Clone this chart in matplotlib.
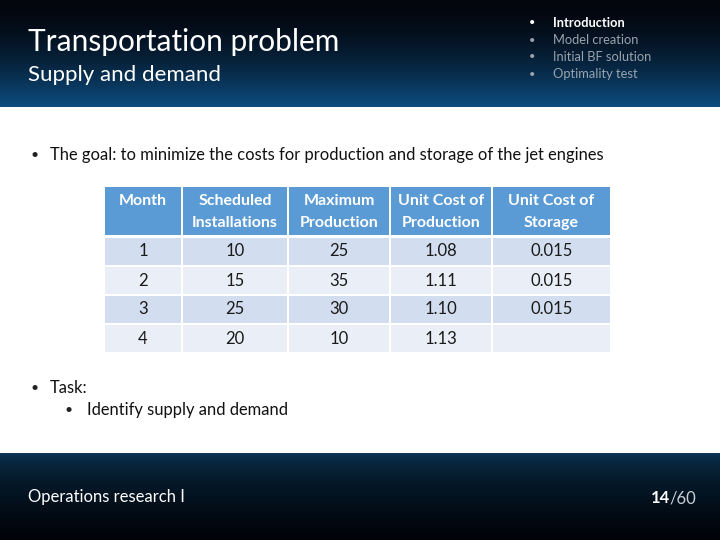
import numpy as np
import matplotlib.pyplot as plt
from matplotlib.patches import Rectangle

# *
# Slide content
# *
title      = "Transportation problem"
subtitle   = "Supply and demand"
nav_items  = ["Introduction", "Model creation", "Initial BF solution", "Optimality test"]
goal_text  = "The goal: to minimize the costs for production and storage of the jet engines"
task_text  = "Task:"
sub_task   = "Identify supply and demand"
footer     = "Operations research I"
page_num   = "14"
page_total = "/60"

# *
# Table data
# *
headers      = [["Month", ""], ["Scheduled", "Installations"], ["Maximum", "Production"],
                ["Unit Cost of", "Production"], ["Unit Cost of", "Storage"]]
months       = ["1", "2", "3", "4"]
scheduled    = ["10", "15", "25", "20"]
max_prod     = ["25", "35", "30", "10"]
cost_prod    = ["1.08", "1.11", "1.10", "1.13"]
cost_storage = ["0.015", "0.015", "0.015", ""]

rows = list(zip(months, scheduled, max_prod, cost_prod, cost_storage))

# *
# Figure: one axes in pixel units
# *
fig = plt.figure(figsize=(7.2, 5.4), dpi=100)
ax = fig.add_axes([0, 0, 1, 1])
ax.set_xlim(0, 720)
ax.set_ylim(540, 0)
ax.axis("off")
plt.rcParams['font.family'] = ['Lato', 'DejaVu Sans']

# header band: black at top to blue at bottom
grad = np.linspace(0, 1, 100)[:, None]
top = np.array([0.01, 0.02, 0.05])
bot = np.array([0.05, 0.30, 0.50])
head_img = top + (bot - top) * grad[..., None] ** 1.6
head_img = np.repeat(head_img, 2, axis=1)
ax.imshow(head_img, extent=(0, 720, 107, 0), aspect="auto", zorder=0)

# footer band: dark navy with a little blue at top
grad2 = np.linspace(0, 1, 100)[:, None]
ftop = np.array([0.05, 0.22, 0.35])
fbot = np.array([0.0, 0.01, 0.03])
foot_img = ftop + (fbot - ftop) * grad2[..., None] ** 0.5
foot_img = np.repeat(foot_img, 2, axis=1)
ax.imshow(foot_img, extent=(0, 720, 540, 453), aspect="auto", zorder=0)

# titles
ax.text(28, 42, title, color="white", fontsize=21.5, va="center", ha="left")
ax.text(28, 75, subtitle, color="white", fontsize=16, va="center", ha="left")

# navigation list
for i, item in enumerate(nav_items):
    y = 23 + i * 17
    col = "white" if i == 0 else "#9aa3ad"
    ax.text(532, y, "•", color=col, fontsize=8, va="center", ha="center")
    ax.text(553, y, item, color=col, fontsize=9.3, va="center", ha="left",
            fontweight="bold" if i == 0 else "normal")

# bullets
ax.text(30, 155, "•", color="#222222", fontsize=10, va="center")
ax.text(50, 155, goal_text, color="#111111", fontsize=11.9, va="center")
ax.text(30, 388, "•", color="#222222", fontsize=10, va="center")
ax.text(50, 388, task_text, color="#111111", fontsize=11.9, va="center")
ax.text(65, 410, "•", color="#222222", fontsize=10, va="center")
ax.text(87, 410, sub_task, color="#111111", fontsize=11.9, va="center")

# table
col_edges = [105, 181, 287, 389, 491, 610]
head_top, head_bot = 187, 235
row_top = 238
row_h = 29
gap = 2

for j in range(len(headers)):
    x0 = col_edges[j] + (0 if j == 0 else gap)
    w = col_edges[j + 1] - x0
    xc = (x0 + col_edges[j + 1]) / 2
    ax.add_patch(Rectangle((x0, head_top), w, head_bot - head_top, facecolor="#5b9bd5", edgecolor="none"))
    ax.text(xc, 201, headers[j][0], color="white", fontsize=11.5, ha="center", va="center", fontweight="bold")
    ax.text(xc, 223, headers[j][1], color="white", fontsize=11.5, ha="center", va="center", fontweight="bold")

for i, row in enumerate(rows):
    y0 = row_top + i * row_h
    fc = "#d2deef" if i % 2 == 0 else "#eaeff7"
    for j, val in enumerate(row):
        x0 = col_edges[j] + (0 if j == 0 else gap)
        w = col_edges[j + 1] - x0
        ax.add_patch(Rectangle((x0, y0), w, row_h - gap, facecolor=fc, edgecolor="none"))
        ax.text((x0 + col_edges[j + 1]) / 2, y0 + (row_h - gap) / 2, val, color="#1a1a1a",
                fontsize=12, ha="center", va="center")

# footer texts
ax.text(28, 497, footer, color="white", fontsize=12, va="center")
ax.text(670, 498, page_num, color="white", fontsize=12, va="center", ha="right", fontweight="bold")
ax.text(669, 498, page_total, color="#c8d0d8", fontsize=12, va="center", ha="left")

plt.savefig("out.png", dpi=100)
